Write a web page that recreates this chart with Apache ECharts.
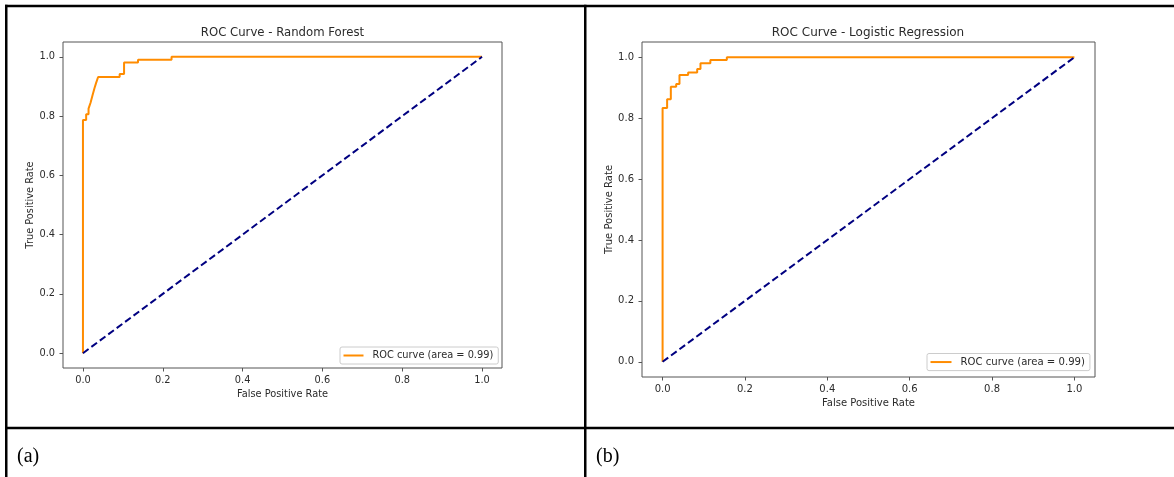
<!DOCTYPE html>
<html>
<head>
<meta charset="utf-8">
<script src="https://cdn.jsdelivr.net/npm/echarts@6/dist/echarts.min.js"></script>
<style>
  html, body { margin: 0; padding: 0; background: #fff; }
  #main { width: 1174px; height: 477px; }
</style>
</head>
<body>
<div id="main"></div>
<script>
// tick positions shared by both panels
const xTicks = [0, 0.2, 0.4, 0.6, 0.8, 1.0];
const yTicks = [0, 0.2, 0.4, 0.6, 0.8, 1.0];

// Random Forest ROC
const rfFpr = [0, 0, 0.008, 0.008, 0.014, 0.014, 0.019, 0.019, 0.024, 0.024, 0.029, 0.029, 0.033, 0.033, 0.038, 0.038, 0.092, 0.092, 0.103, 0.103, 0.138, 0.138, 0.222, 0.222, 1.0];
const rfTpr = [0, 0.787, 0.787, 0.806, 0.806, 0.825, 0.825, 0.845, 0.845, 0.87, 0.87, 0.895, 0.895, 0.912, 0.912, 0.932, 0.932, 0.942, 0.942, 0.981, 0.981, 0.99, 0.99, 1.0, 1.0];

// Logistic Regression ROC
const lrFpr = [0, 0, 0.011, 0.011, 0.02, 0.02, 0.033, 0.033, 0.041, 0.041, 0.062, 0.062, 0.084, 0.084, 0.092, 0.092, 0.116, 0.116, 0.156, 0.156, 1.0];
const lrTpr = [0, 0.833, 0.833, 0.862, 0.862, 0.903, 0.903, 0.912, 0.912, 0.942, 0.942, 0.95, 0.95, 0.961, 0.961, 0.98, 0.98, 0.991, 0.991, 1.0, 1.0];

// chance diagonal
const chanceX = [0, 1];
const chanceY = [0, 1];

const curveName = 'ROC curve (area = 0.99)';
const titles = ['ROC Curve - Random Forest', 'ROC Curve - Logistic Regression'];
const panelTags = ['(a)', '(b)'];

function pairs(xs, ys) {
  return xs.map((x, i) => [x, ys[i]]);
}

const txt = '#2b2b2b';
const spine = '#555';
const font = 'DejaVu Sans';

function makeX(idx, fs) {
  return {
    type: 'value', gridIndex: idx, min: -0.05, max: 1.05,
    name: 'False Positive Rate', nameLocation: 'middle', nameGap: 21,
    nameTextStyle: { color: txt, fontSize: fs, fontFamily: font },
    axisLine: { show: false, onZero: false },
    splitLine: { show: false },
    axisTick: { show: true, inside: false, length: 3.5, customValues: xTicks, lineStyle: { color: spine } },
    axisLabel: { margin: 7, color: txt, fontSize: fs, fontFamily: font, customValues: xTicks,
      formatter: v => v.toFixed(1) }
  };
}

function makeY(idx, fs) {
  return {
    type: 'value', gridIndex: idx, min: -0.05, max: 1.05,
    name: 'True Positive Rate', nameLocation: 'middle', nameGap: 28, nameRotate: 90,
    nameTextStyle: { color: txt, fontSize: fs, fontFamily: font },
    axisLine: { show: false, onZero: false },
    splitLine: { show: false },
    axisTick: { show: true, inside: false, length: 3.5, customValues: yTicks, lineStyle: { color: spine } },
    axisLabel: { margin: 8, color: txt, fontSize: fs, fontFamily: font, customValues: yTicks,
      formatter: v => v.toFixed(1) }
  };
}

function makeLegend(left, top, fs, w) {
  return {
    left: left, top: top,
    data: [curveName],
    icon: 'rect', itemWidth: w, itemHeight: 2,
    padding: [3.5, 5, 3.5, 3.5],
    backgroundColor: 'rgba(255,255,255,0.8)',
    borderColor: '#cccccc', borderWidth: 1, borderRadius: 2,
    selectedMode: false,
    textStyle: { color: txt, fontSize: fs, fontFamily: font, padding: [0, 0, 0, 4], lineHeight: fs }
  };
}

const myChart = echarts.init(document.getElementById('main'));

const option = {
  animation: false,
  backgroundColor: '#fff',
  title: [
    { text: titles[0], left: 282.5, textAlign: 'center', top: 26.5, padding: 0,
      textStyle: { color: txt, fontSize: 11.7, fontWeight: 'normal', fontFamily: font } },
    { text: titles[1], left: 868, textAlign: 'center', top: 26.5, padding: 0,
      textStyle: { color: txt, fontSize: 12, fontWeight: 'normal', fontFamily: font } }
  ],
  grid: [
    { left: 63, top: 42, width: 439, height: 326, show: true, borderColor: spine, borderWidth: 1, backgroundColor: 'transparent' },
    { left: 642, top: 42, width: 453, height: 335, show: true, borderColor: spine, borderWidth: 1, backgroundColor: 'transparent' }
  ],
  xAxis: [makeX(0, 9.8), makeX(1, 10)],
  yAxis: [makeY(0, 9.8), makeY(1, 10)],
  legend: [makeLegend(340, 347, 9.8, 20), makeLegend(927, 353.5, 10.1, 21)],
  series: [
    { name: curveName, type: 'line', xAxisIndex: 0, yAxisIndex: 0, showSymbol: false, symbol: 'none',
      data: pairs(rfFpr, rfTpr), lineStyle: { color: '#ff8c00', width: 2 }, itemStyle: { color: '#ff8c00' } },
    { name: 'chance-a', type: 'line', xAxisIndex: 0, yAxisIndex: 0, showSymbol: false, symbol: 'none',
      data: pairs(chanceX, chanceY), lineStyle: { color: '#000080', width: 2, type: [7, 3.5] } },
    { name: curveName, type: 'line', xAxisIndex: 1, yAxisIndex: 1, showSymbol: false, symbol: 'none',
      data: pairs(lrFpr, lrTpr), lineStyle: { color: '#ff8c00', width: 2 }, itemStyle: { color: '#ff8c00' } },
    { name: 'chance-b', type: 'line', xAxisIndex: 1, yAxisIndex: 1, showSymbol: false, symbol: 'none',
      data: pairs(chanceX, chanceY), lineStyle: { color: '#000080', width: 2, type: [7, 3.5] } }
  ],
  // table frame around the two panels + captions
  graphic: [
    { type: 'rect', shape: { x: 5, y: 4.8, width: 1169, height: 2.5 }, style: { fill: '#000' } },
    { type: 'rect', shape: { x: 5, y: 4.8, width: 2.5, height: 472.2 }, style: { fill: '#000' } },
    { type: 'rect', shape: { x: 584, y: 4.8, width: 2.5, height: 472.2 }, style: { fill: '#000' } },
    { type: 'rect', shape: { x: 5, y: 426.7, width: 1169, height: 2.6 }, style: { fill: '#000' } },
    { type: 'text', left: 17, top: 447, style: { text: panelTags[0], fill: '#000', fontSize: 20, fontFamily: 'Liberation Serif' } },
    { type: 'text', left: 596, top: 447, style: { text: panelTags[1], fill: '#000', fontSize: 20, fontFamily: 'Liberation Serif' } }
  ]
};

myChart.setOption(option);
</script>
</body>
</html>
